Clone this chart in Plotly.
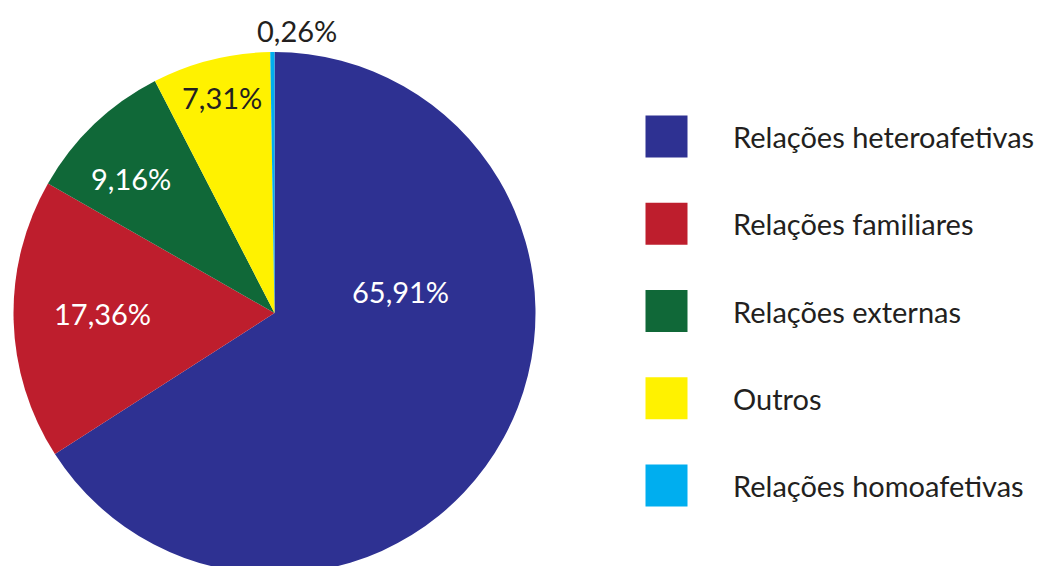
import plotly.graph_objects as go

categories = ["Relações heteroafetivas", "Relações familiares", "Relações externas",
              "Outros", "Relações homoafetivas"]
values = [65.91, 17.36, 9.16, 7.31, 0.26]
colors = ["#2e3192", "#be1e2d", "#106838", "#fff200", "#00aeef"]
label_colors = ["#ffffff", "#ffffff", "#ffffff", "#231f20", "#231f20"]

W, H = 1048, 566
OFF = 8  # page body margin offset
FONT = "Lato"
TXT = "#231f20"

# label anchor positions (screen pixels) for each slice label
label_pos = [(400, 291), (102, 313), (131, 179), (222, 97), (297, 30)]

# pie geometry (screen pixels)
cx, cy, rad = 274.5 - OFF, 313 - OFF, 261

fig = go.Figure()
fig.add_trace(go.Pie(
    labels=categories, values=values, sort=False, direction="clockwise", rotation=0,
    marker=dict(colors=colors, line=dict(width=0)),
    textinfo="none", hoverinfo="label+percent", showlegend=False,
    domain=dict(x=[(cx - rad) / W, (cx + rad) / W], y=[1 - (cy + rad) / H, 1 - (cy - rad) / H]),
))

# custom legend: square markers on an overlay axis
fig.add_trace(go.Scatter(
    x=[666.5 - OFF] * len(categories), y=categories, mode="markers",
    marker=dict(symbol="square", size=42, color=colors, line=dict(width=0)),
    showlegend=False, hoverinfo="skip", xaxis="x2", yaxis="y2",
))

annotations = []
for cat in categories:
    annotations.append(dict(x=731 - OFF, y=cat, xref="x2", yref="y2", text=cat, showarrow=False,
                            xanchor="left", yanchor="middle",
                            font=dict(family=FONT, size=29, color=TXT)))
for v, c, (px, py) in zip(values, label_colors, label_pos):
    annotations.append(dict(x=(px - OFF) / W, y=1 - (py - OFF) / H, xref="paper", yref="paper",
                            text=f"{v:.2f}%".replace(".", ","), showarrow=False,
                            xanchor="center", yanchor="middle",
                            font=dict(family=FONT, size=29, color=c)))

step = 87.25
r0 = -(136.5 - OFF) / step
r1 = r0 + H / step
fig.update_layout(
    width=W, height=H, margin=dict(l=0, r=0, t=0, b=0),
    paper_bgcolor="white", plot_bgcolor="rgba(0,0,0,0)",
    xaxis2=dict(domain=[0, 1], range=[0, W], visible=False, fixedrange=True),
    yaxis2=dict(domain=[0, 1], range=[r1, r0], visible=False, fixedrange=True,
                type="category", categoryorder="array", categoryarray=categories),
    xaxis=dict(visible=False), yaxis=dict(visible=False),
    annotations=annotations,
)

fig.write_html("out.html")
